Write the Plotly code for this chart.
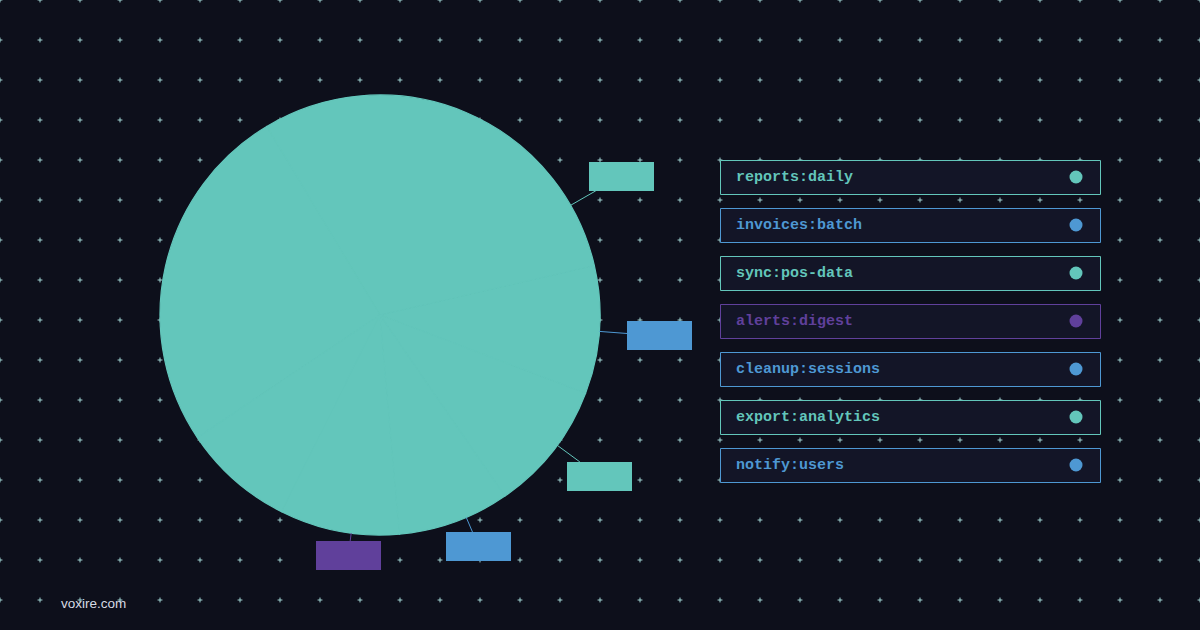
import numpy as np
import plotly.graph_objects as go

# ---------------- data ----------------
jobs = ["reports:daily", "invoices:batch", "sync:pos-data", "alerts:digest",
        "cleanup:sessions", "export:analytics", "notify:users"]
runs = [47, 150, 129, 41, 44, 41, 48]
job_colors = ["#63c6bb", "#4e98d3", "#63c6bb", "#60409b", "#4e98d3", "#63c6bb", "#4e98d3"]
show_label = [True, False, False, True, True, True, True]

# ---------------- style ----------------
W, H = 1200, 630
BG = "#0d0f1b"
PIE_FILL = "#63c6bb"
PIE_CX, PIE_CY, PIE_R = 380, 315, 220
START_ANGLE = 77              # clockwise from 12 o'clock, slices run counterclockwise
label_line_len = [29, 0, 0, 8, 16, 28, 28]
BOX_W, BOX_H = 65, 29
LEG_X0, LEG_X1, LEG_TOP, LEG_ROW_H, LEG_PITCH = 720.5, 1100.5, 160.5, 34, 48

fig = go.Figure()

# decorative dotted background (tiny crosses every 40 px)
gx, gy = np.meshgrid(np.arange(0, W + 1, 40), np.arange(0, H + 1, 40))
fig.add_trace(go.Scatter(
    x=gx.ravel(), y=gy.ravel(), mode="markers", hoverinfo="skip", showlegend=False,
    marker=dict(symbol="cross-thin", size=3.5, line=dict(width=1, color="rgba(170,222,220,0.95)")),
    xaxis="x", yaxis="y"))

# pie
fig.add_trace(go.Pie(
    labels=jobs, values=runs, sort=False, direction="counterclockwise",
    rotation=START_ANGLE, textinfo="none", showlegend=False,
    marker=dict(colors=[PIE_FILL] * len(jobs), line=dict(width=1.2, color=PIE_FILL)),
    domain=dict(x=[(PIE_CX - PIE_R) / W, (PIE_CX + PIE_R) / W],
                y=[1 - (PIE_CY + PIE_R) / H, 1 - (PIE_CY - PIE_R) / H]),
    hovertemplate="%{label}: %{value} (%{percent})<extra></extra>"))

# slice label boxes with leader lines, placed at slice mid angles
total = float(sum(runs))
cum = 0.0
annotations = []
for name, v, col, show, L in zip(jobs, runs, job_colors, show_label, label_line_len):
    deg = v / total * 360.0
    mid = np.radians(START_ANGLE - (cum + deg / 2))
    cum += deg
    if not show:
        continue
    ux, uy = np.sin(mid), -np.cos(mid)
    ex, ey = PIE_CX + PIE_R * ux, PIE_CY + PIE_R * uy
    lx, ly = PIE_CX + (PIE_R + L) * ux, PIE_CY + (PIE_R + L) * uy
    t = min((BOX_W / 2) / max(abs(ux), 1e-9), (BOX_H / 2) / max(abs(uy), 1e-9))
    bx, by = lx + ux * t, ly + uy * t
    annotations.append(dict(
        x=ex, y=ey, xref="x", yref="y", ax=bx - ex, ay=by - ey, axref="pixel", ayref="pixel",
        text=" ", showarrow=True, arrowhead=0, arrowwidth=1, arrowcolor=col, standoff=0,
        width=BOX_W, height=BOX_H, bgcolor=col, borderpad=0, borderwidth=0,
        font=dict(size=10, color=col)))

# custom legend
shapes = []
for i, (name, col) in enumerate(zip(jobs, job_colors)):
    top = LEG_TOP + i * LEG_PITCH
    shapes.append(dict(type="rect", xref="x", yref="y", x0=LEG_X0, x1=LEG_X1, y0=top, y1=top + LEG_ROW_H,
                       line=dict(color=col, width=1), fillcolor="#131527", layer="above"))
    cy = top + LEG_ROW_H / 2 - 0.5
    shapes.append(dict(type="circle", xref="x", yref="y", x0=1069.5, x1=1082.5, y0=cy - 6.5, y1=cy + 6.5,
                       line=dict(width=0), fillcolor=col, layer="above"))
    annotations.append(dict(x=734, y=cy, xref="x", yref="y", xanchor="left", yanchor="middle",
                            text="<b>" + name + "</b>", showarrow=False,
                            font=dict(family="Liberation Mono, Courier New, monospace", size=15, color=col)))

annotations.append(dict(x=59, y=603, xref="x", yref="y", xanchor="left", yanchor="middle",
                        text="voxire.com", showarrow=False,
                        font=dict(family="Liberation Sans, Arial, sans-serif", size=13.5, color="#d6dae3")))

fig.update_layout(
    width=W, height=H, margin=dict(l=0, r=0, t=0, b=0),
    paper_bgcolor=BG, plot_bgcolor=BG, showlegend=False,
    xaxis=dict(range=[0, W], visible=False, domain=[0, 1], fixedrange=True),
    yaxis=dict(range=[H, 0], visible=False, domain=[0, 1], fixedrange=True),
    shapes=shapes, annotations=annotations)

fig.write_html("out.html", config={"displayModeBar": False},
               post_script="document.body.style.margin='0';document.body.style.background='#0d0f1b';")
